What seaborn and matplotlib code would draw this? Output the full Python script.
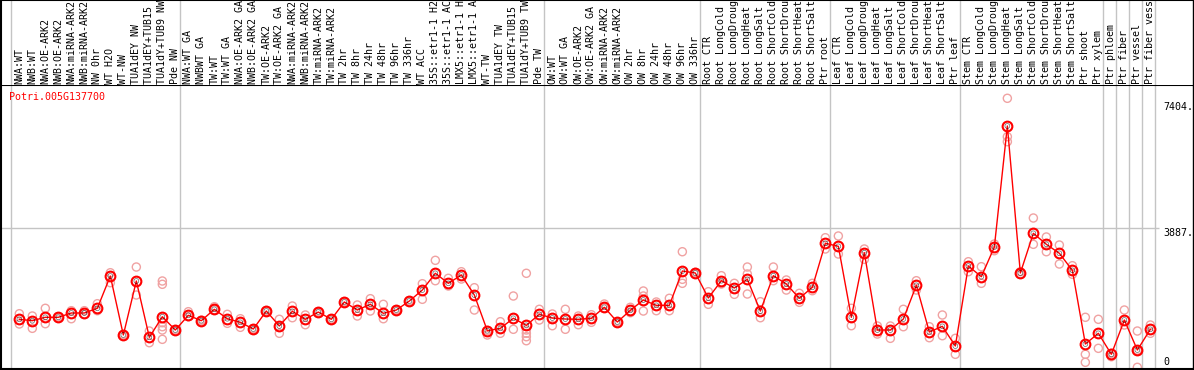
import numpy as np
import pandas as pd
import matplotlib
matplotlib.use("Agg")
import matplotlib.pyplot as plt
import matplotlib.transforms as mtransforms
import seaborn as sns

# ==========================================
# DATA
# ==========================================
GENE = "Potri.005G137700"

samples = [
    "NWA:WT", "NWB:WT", "NWA:OE-ARK2", "NWB:OE-ARK2", "NWA:miRNA-ARK2", "NWB:miRNA-ARK2",
    "NW 0hr", "WT H2O", "WT-NW", "TUA1dEY NW", "TUA1dEY+TUB15 NW", "TUA1dY+TUB9 NW", "Pde NW",
    "NWA:WT GA", "NWBWT GA", "TW:WT", "TW:WT GA", "NWA:OE-ARK2 GA", "NWB:OE-ARK2 GA",
    "TW:OE-ARK2", "TW:OE-ARK2 GA", "NWA:miRNA-ARK2", "NWB:miRNA-ARK2", "TW:miRNA-ARK2",
    "TW:miRNA-ARK2", "TW 2hr", "TW 8hr", "TW 24hr", "TW 48hr", "TW 96hr", "TW 336hr", "WT ACC",
    "35S::etr1-1 H2O", "35S::etr1-1 ACC", "LMX5::etr1-1 H2O", "LMX5::etr1-1 ACC", "WT-TW",
    "TUA1dEY TW", "TUA1dEY+TUB15 TW", "TUA1dY+TUB9 TW", "Pde TW",
    "OW:WT", "OW:WT GA", "OW:OE-ARK2", "OW:OE-ARK2 GA", "OW:miRNA-ARK2", "OW:miRNA-ARK2",
    "OW 2hr", "OW 8hr", "OW 24hr", "OW 48hr", "OW 96hr", "OW 336hr",
    "Root CTR", "Root LongCold", "Root LongDrought", "Root LongHeat", "Root LongSalt",
    "Root ShortCold", "Root ShortDrought", "Root ShortHeat", "Root ShortSalt", "Ptr root",
    "Leaf CTR", "Leaf LongCold", "Leaf LongDrought", "Leaf LongHeat", "Leaf LongSalt",
    "Leaf ShortCold", "Leaf ShortDrought", "Leaf ShortHeat", "Leaf ShortSalt", "Ptr leaf",
    "Stem CTR", "Stem LongCold", "Stem LongDrought", "Stem LongHeat", "Stem LongSalt",
    "Stem ShortCold", "Stem ShortDrought", "Stem ShortHeat", "Stem ShortSalt", "Ptr shoot",
    "Ptr xylem", "Ptr phloem", "Ptr fiber", "Ptr vessel", "Ptr fiber vessel",
]

# last sample index of each block (separator drawn after it)
group_ends = [12, 40, 52, 62, 72, 83, 84, 85, 86, 87]

mean_expr = [
    1340, 1301, 1396, 1396, 1516, 1516, 1647, 2548, 902, 2409, 837, 1412, 1041,
    1451, 1301, 1619, 1356, 1256, 1069, 1571, 1153, 1563, 1340, 1543, 1340, 1823, 1599,
    1758, 1507, 1599, 1850, 2157, 2624, 2344, 2576, 2018, 1021, 1088, 1368, 1172, 1479,
    1376, 1348, 1340, 1368, 1675, 1264, 1591, 1878, 1730, 1730, 2688, 2632,
    1934, 2417, 2213, 2456, 1571, 2557, 2325, 1926, 2233, 3461,
    3377, 1396, 3198, 1041, 1041, 1348, 2289, 985, 1144, 594,
    2827, 2529, 3358, 6735, 2632, 3740, 3433, 3182, 2707, 650, 949,
    363, 1320, 483, 1061,
]

replicates = [
    [1496, 1209], [1432, 1088], [1647, 1217], [1380, 1410], [1580, 1356], [1580, 1479],
    [1775, 1580], [2640, 2361], [890, 915], [2799, 2018], [1013, 687],
    [2409, 2317, 1245, 1133, 1041, 781], [1030, 1055],
    [1552, 1412], [1290, 1315], [1691, 1610], [1479, 1228], [1356, 1116], [1055, 1080],
    [1560, 1585], [1340, 949], [1711, 1384], [1460, 1189], [1530, 1555], [1330, 1350],
    [1810, 1835], [1739, 1432], [1915, 1571], [1758, 1356], [1590, 1610], [1840, 1860],
    [2333, 1898], [2986, 2417], [2484, 2269], [2668, 2464], [2222, 1599], [902, 1030],
    [1273, 949], [1990, 1061], [2624, 1041, 949, 854, 742], [1619, 1320],
    [1488, 1161], [1619, 1061], [1432, 1189], [1468, 1256], [1767, 1660], [1250, 1275],
    [1675, 1524], [2130, 1990, 1571], [1823, 1580], [1926, 1580], [3226, 2456, 2344],
    [2610, 2650],
    [2110, 1758], [2557, 2325], [2344, 2037], [2799, 2604, 2046], [1831, 1384], [2799, 2417],
    [2437, 2157], [2065, 1814], [2344, 2138], [3617, 3302],
    [3665, 3162], [1647, 1161], [3302, 3014], [1153, 929], [1153, 809], [1619, 1133],
    [2417, 2157], [1133, 826], [1460, 882], [809, 363],
    [2947, 2668], [2808, 2344], [3441, 3254], [7508, 6436, 6297], [2668, 2600],
    [4167, 3433], [3637, 3226], [3413, 2883], [2836, 2596], [1396, 363, 140], [1340, 530],
    [391, 296], [1599, 1181], [1013, 480, 0], [1181, 949],
]

tick_values = [7404, 3887]

# ==========================================
# DATAFRAMES
# ==========================================
mean_df = pd.DataFrame({"pos": np.arange(len(samples)), "value": mean_expr})
rep_rows = [(i, v) for i, vals in enumerate(replicates) for v in vals]
rep_df = pd.DataFrame(rep_rows, columns=["pos", "value"])

# ==========================================
# FIGURE / LAYOUT (pixel based)
# ==========================================
sns.set_style("white")
plt.rcParams['font.family'] = ['DejaVu Sans Mono', 'DejaVu Sans']

W, H = 1194, 370
fig = plt.figure(figsize=(W / 100, H / 100), dpi=100)

left_px, right_px = 1, 1193
top_px, bot_px = 85, 369
ax = fig.add_axes([left_px / W, (H - bot_px) / H, (right_px - left_px) / W, (bot_px - top_px) / H])
hax = fig.add_axes([left_px / W, (H - top_px) / H, (right_px - left_px) / W, top_px / H])

xlim = (-1.41, 90.28)
ax.set_xlim(*xlim)
hax.set_xlim(*xlim)
ax.set_ylim(-47, 7879)
hax.set_ylim(0, 1)

grid_c = "#c4c4c4"
pink = "#f0a2a2"

# separators
seps = [-0.66] + [e + 0.385 for e in group_ends]
for xs in seps:
    ax.axvline(xs, color=grid_c, lw=1, zorder=0)
    hax.axvline(xs, color=grid_c, lw=1, zorder=0)

ax.hlines(3887, xlim[0], len(samples) - 0.3, color=grid_c, lw=1, zorder=0)

# replicates
sns.scatterplot(data=rep_df, x="pos", y="value", ax=ax, marker="o", s=34,
                fc="none", ec=pink, linewidth=1.0, zorder=2, legend=False)

# mean line
sns.lineplot(data=mean_df, x="pos", y="value", ax=ax, color="red", lw=1,
             marker="o", markersize=7, mfc="none", mec="red", mew=1.5, zorder=3)
sns.scatterplot(data=mean_df, x="pos", y="value", ax=ax, marker="o", s=12,
                fc="none", ec="black", linewidth=0.5, alpha=0.6, zorder=4, legend=False)

# y labels on the right
for v in tick_values:
    ax.text(len(samples), v, f"{v}.", ha="left", va="top", fontsize=7.2, color="black")
ax.text(len(samples), 0, "0", ha="left", va="bottom", fontsize=7.2, color="black")

ax.text(0.007, 0.959, GENE, transform=ax.transAxes, color="red", ha="left", va="center",
        fontsize=7.2)

# header labels
trans = mtransforms.blended_transform_factory(hax.transData, hax.transAxes)
for i, lab in enumerate(samples):
    hax.text(i, 1.5 / top_px, lab, transform=trans, rotation=90, ha="center", va="bottom",
             fontsize=7.2, color="black", clip_on=False)

for a in (ax, hax):
    a.set_xticks([])
    a.set_yticks([])
    a.set_xlabel("")
    a.set_ylabel("")
    for sp in a.spines.values():
        sp.set_color("black")
        sp.set_linewidth(1.5)
hax.spines["bottom"].set_visible(False)
ax.spines["right"].set_linewidth(1.0)
hax.spines["right"].set_linewidth(1.0)

fig.savefig("out.png", dpi=100)
